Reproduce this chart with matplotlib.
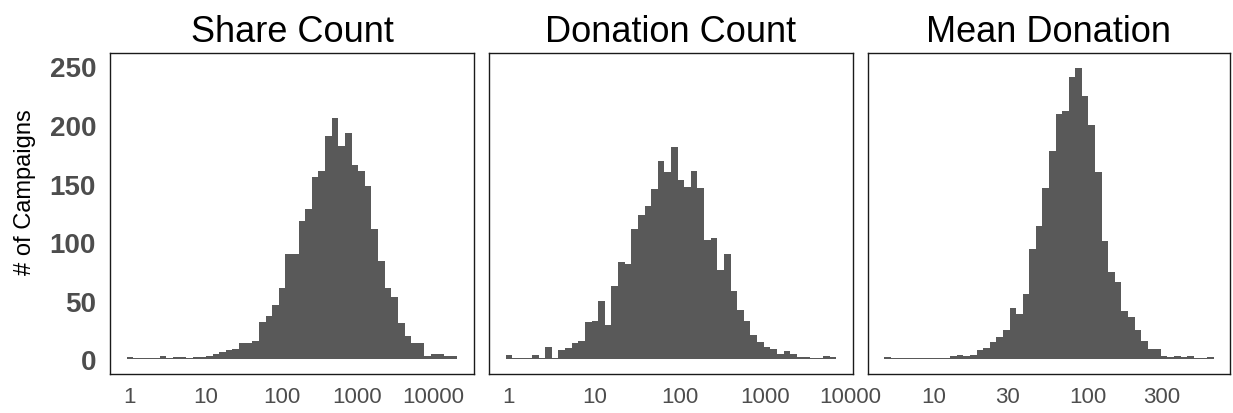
import numpy as np
import matplotlib
matplotlib.use("Agg")
import matplotlib.pyplot as plt

plt.rcParams['font.family'] = ['Liberation Sans', 'DejaVu Sans']

# ---- data ----
titles = ["Share Count", "Donation Count", "Mean Donation"]

share_counts = [2, 1, 1, 1, 1, 3, 1, 2, 2, 1,
                2, 2, 3, 5, 6, 8, 9, 14, 14, 16,
                32, 37, 46, 61, 90, 90, 118, 128, 156, 161,
                191, 206, 182, 193, 166, 161, 148, 111, 84, 61,
                53, 31, 20, 14, 14, 3, 5, 5, 3, 3]

donation_counts = [4, 1, 1, 1, 4, 1, 11, 1, 8, 10,
                   14, 16, 32, 33, 50, 29, 63, 83, 81, 111,
                   123, 131, 145, 169, 160, 181, 153, 147, 161, 146,
                   102, 104, 76, 90, 58, 42, 33, 21, 15, 11,
                   9, 5, 7, 5, 2, 2, 1, 1, 3, 2]

mean_donation_counts = [2, 1, 1, 1, 1, 1, 1, 1, 1, 1,
                        3, 4, 3, 4, 8, 10, 15, 19, 25, 44,
                        39, 56, 94, 114, 146, 178, 209, 212, 241, 249,
                        225, 200, 160, 101, 75, 66, 41, 36, 25, 16,
                        9, 9, 3, 2, 3, 2, 3, 1, 1, 2]

# log10 range covered by the bins (outer edges)
share_log_range = (-0.0437, 4.323)
donation_log_range = (-0.0387, 3.835)
mean_log_range = (0.6776, 2.817)

share_ticks = [1, 10, 100, 1000, 10000]
donation_ticks = [1, 10, 100, 1000, 10000]
mean_ticks = [10, 30, 100, 300]

y_ticks = [0, 50, 100, 150, 200, 250]

series = [share_counts, donation_counts, mean_donation_counts]
ranges = [share_log_range, donation_log_range, mean_log_range]
xticks = [share_ticks, donation_ticks, mean_ticks]

# ---- figure ----
W, H = 1233, 414
fig = plt.figure(figsize=(W / 100, H / 100), dpi=100)

panel_px = [(110, 474), (489, 853), (868, 1230)]
top_px, bot_px = 54, 375

bar_color = "#595959"
tick_color = "#4D4D4D"

ymax = max(max(s) for s in series)
ypad = 0.05 * ymax

for i, (counts, (lo, hi), ticks, title) in enumerate(zip(series, ranges, xticks, titles)):
    x0, x1 = panel_px[i]
    ax = fig.add_axes([x0 / W, (H - bot_px) / H, (x1 - x0) / W, (bot_px - top_px) / H])
    edges_log = np.linspace(lo, hi, len(counts) + 1)
    edges = 10 ** edges_log
    ax.stairs(counts, edges, fill=True, color=bar_color, baseline=0, linewidth=0)
    ax.set_xscale('log')
    span = hi - lo
    ax.set_xlim(10 ** (lo - 0.05 * span), 10 ** (hi + 0.05 * span))
    ax.set_ylim(-ypad, ymax + ypad)
    ax.set_xticks(ticks)
    ax.set_xticklabels([str(t) for t in ticks])
    ax.xaxis.set_minor_locator(matplotlib.ticker.NullLocator())
    ax.tick_params(axis='x', length=0, pad=9, labelsize=16, labelcolor=tick_color)
    if i == 0:
        ax.set_yticks(y_ticks)
        ax.set_yticklabels([str(t) for t in y_ticks], fontweight='bold')
        ax.tick_params(axis='y', length=0, pad=10, labelsize=20, labelcolor=tick_color)
    else:
        ax.set_yticks([])
    for sp in ax.spines.values():
        sp.set_color("#1a1a1a")
        sp.set_linewidth(1.0)
    ax.set_title(title, fontsize=26, pad=9, color="black")

fig.text(25 / W, (H - 192) / H, "# of Campaigns", rotation=90,
         ha='center', va='center', fontsize=17, color='black')

fig.savefig("out.png", dpi=100)
